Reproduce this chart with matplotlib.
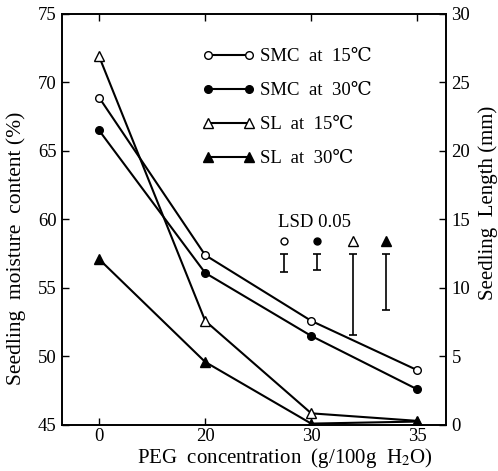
import matplotlib
matplotlib.use("Agg")
import matplotlib.pyplot as plt
from matplotlib.lines import Line2D
import numpy as np

plt.rcParams["font.family"] = ["Liberation Serif", "DejaVu Serif", "DejaVu Sans"]
plt.rcParams["mathtext.fontset"] = "stix"

# data
peg_labels = ["0", "20", "30", "35"]
smc_15 = [68.9, 57.4, 52.6, 49.0]      # seedling moisture content, %
smc_30 = [66.5, 56.1, 51.5, 47.6]
sl_15 = [26.9, 7.6, 0.85, 0.3]          # seedling length, mm
sl_30 = [12.1, 4.6, 0.1, 0.25]

lsd_names = ["SMC 15", "SMC 30", "SL 15", "SL 30"]
lsd_x = [1.74, 2.05, 2.39, 2.70]
lsd_top = 12.5
lsd_len = [1.35, 1.2, 5.9, 4.1]

x = np.arange(len(peg_labels))

fig = plt.figure(figsize=(4.98, 4.71), dpi=100)
ax = fig.add_axes([0.1245, 0.0977, 0.771, 0.8726])
ax2 = ax.twinx()

lw = 1.5
ms_c = 5.5
ms_t = 6.5
ax.plot(x, smc_15, "-o", color="black", mfc="white", mec="black", lw=lw, ms=ms_c, mew=1.0)
ax.plot(x, smc_30, "-o", color="black", mfc="black", lw=lw, ms=ms_c)
ax2.plot(x, sl_15, "-^", color="black", mfc="white", mec="black", lw=lw, ms=ms_t, mew=1.0)
ax2.plot(x, sl_30, "-^", color="black", mfc="black", lw=lw, ms=ms_t)

ax.set_xlim(-0.35, 3.27)
ax.set_ylim(45, 75)
ax2.set_ylim(0, 30)
ax.set_xticks(x)
ax.set_xticklabels(peg_labels)
ax.set_yticks(np.arange(45, 76, 5))
ax2.set_yticks(np.arange(0, 31, 5))

ax.tick_params(axis="both", direction="in", labelsize=13.5, length=5, width=1,
               top=True, pad=4)
ax.tick_params(axis="x", pad=2)
ax2.tick_params(axis="y", direction="in", labelsize=13.5, length=5, width=1, pad=4)
for a in (ax, ax2):
    for s in a.spines.values():
        s.set_linewidth(1.2)

ax.set_xlabel("PEG  concentration  (g/100g  H$_2$O)", fontsize=15)
ax.set_ylabel("Seedling  moisture  content (%)", fontsize=15.5)
ax2.set_ylabel("Seedling  Length (mm)", fontsize=15)
ax.xaxis.set_label_coords(0.58, -0.052)
ax.yaxis.set_label_coords(-0.093, 0.43)
ax2.yaxis.set_label_coords(1.084, 0.54)

# LSD bars
marker_style = [
    dict(marker="o", mfc="white", ms=5),
    dict(marker="o", mfc="black", ms=5),
    dict(marker="^", mfc="white", ms=6.5),
    dict(marker="^", mfc="black", ms=6.5),
]
for xi, ln, st in zip(lsd_x, lsd_len, marker_style):
    ax2.errorbar(xi, lsd_top - ln / 2, yerr=ln / 2, fmt="none", ecolor="black",
                 elinewidth=1.2, capsize=3, capthick=1.2)
    ax2.plot(xi, 13.45, ls="none", mec="black", mew=1.0, **st)
ax2.text(2.03, 14.8, "LSD 0.05", ha="center", va="center", fontsize=13.5)

handles = [
    Line2D([], [], color="black", lw=lw, marker="o", mfc="white", ms=ms_c, mew=1.0),
    Line2D([], [], color="black", lw=lw, marker="o", mfc="black", ms=ms_c),
    Line2D([], [], color="black", lw=lw, marker="^", mfc="white", ms=ms_t, mew=1.0),
    Line2D([], [], color="black", lw=lw, marker="^", mfc="black", ms=ms_t),
]
labels = ["SMC  at  15℃", "SMC  at  30℃", "SL  at  15℃", "SL  at  30℃"]
ax2.legend(handles, labels, loc="upper left", bbox_to_anchor=(0.345, 0.935),
           borderaxespad=0, frameon=False, numpoints=2, handlelength=2.82,
           handletextpad=0.3, labelspacing=0.9, fontsize=13.5)

fig.savefig("out.png", dpi=100)
